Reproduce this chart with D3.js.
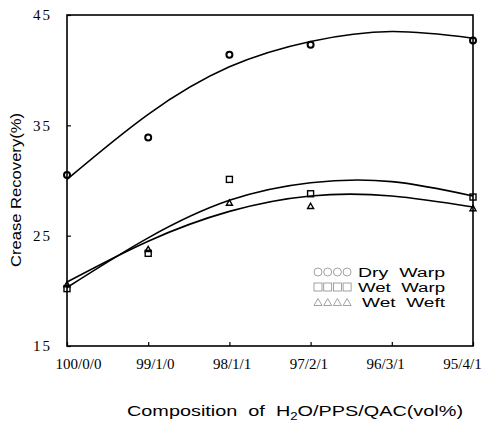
<!DOCTYPE html>
<html>
<head>
<meta charset="utf-8">
<script src="https://cdn.jsdelivr.net/npm/d3@7"></script>
<style>
  body { margin: 0; background: #fff; }
  svg { display: block; }
  .tick text { font-family: "Liberation Serif", "DejaVu Serif", serif; fill: #000; }
  .title { font-family: "Liberation Sans", Arial, sans-serif; font-size: 15px; fill: #000; white-space: pre; }
  .legend { font-family: "Liberation Sans", Arial, sans-serif; font-size: 12.5px; fill: #000; white-space: pre; }
</style>
</head>
<body>
<svg id="chart" width="486" height="422"></svg>
<script>
// compositions H2O/PPS/QAC
const categories = ['100/0/0', '99/1/0', '98/1/1', '97/2/1', '96/3/1', '95/4/1'];
const yTicks = [15, 25, 35, 45];

// measured crease recovery (null = no point at that composition)
const dryWarp = [30.5, 33.9, 41.4, 42.3, null, 42.7];
const wetWarp = [20.2, 23.4, 30.1, 28.8, null, 28.5];
const wetWeft = [20.6, 23.8, 28.0, 27.7, null, 27.5];

const dryWarpFit = [30.1, 36.0, 40.3, 42.6, 43.5, 42.9];
const wetWarpFit = [20.3, 24.8, 28.2, 29.8, 29.9, 28.6];
const wetWeftFit = [20.8, 24.5, 27.2, 28.6, 28.6, 27.6];

const seriesNames = ['Dry  Warp', 'Wet  Warp', 'Wet  Weft'];
const seriesShapes = ['circle', 'square', 'triangle'];

const svg = d3.select('#chart');

const x = d3.scalePoint().domain(categories).range([67, 473]);
// the printed labels sit a little off the tick marks
const xLabel = d3.scalePoint().domain(categories).range([78, 462]);
const y = d3.scaleLinear().domain([15, 45]).range([346, 15]);

// frame
svg.append('rect')
  .attr('x', x.range()[0]).attr('y', y.range()[1])
  .attr('width', x.range()[1] - x.range()[0])
  .attr('height', y.range()[0] - y.range()[1])
  .attr('fill', 'none').attr('stroke', '#000').attr('stroke-width', 1.6);

// y axis, ticks pointing inward
svg.append('g')
  .attr('transform', `translate(${x.range()[0]},0)`)
  .call(d3.axisLeft(y).tickValues(yTicks).tickSize(-4).tickPadding(15))
  .call(g => g.select('.domain').remove())
  .call(g => g.selectAll('.tick line').attr('stroke', '#000').attr('stroke-width', 1.2))
  .call(g => g.selectAll('.tick text')
    .attr('font-size', 15).attr('letter-spacing', 2));

// x axis ticks
svg.append('g')
  .attr('transform', `translate(0,${y.range()[0]})`)
  .call(d3.axisBottom(x).tickSize(-4).tickFormat(''))
  .call(g => g.select('.domain').remove())
  .call(g => g.selectAll('.tick line').attr('stroke', '#000').attr('stroke-width', 1.2));

// x axis labels
svg.append('g')
  .attr('transform', `translate(0,${y.range()[0]})`)
  .call(d3.axisBottom(xLabel).tickSize(0).tickPadding(12))
  .call(g => g.select('.domain').remove())
  .call(g => g.selectAll('.tick text').attr('font-size', 15));

// axis titles
svg.append('text')
  .attr('class', 'title')
  .attr('transform', 'translate(21,190) rotate(-90)')
  .attr('text-anchor', 'middle')
  .attr('textLength', 154).attr('lengthAdjust', 'spacingAndGlyphs')
  .text('Crease Recovery(%)');

const xTitle = svg.append('text')
  .attr('class', 'title')
  .attr('x', 127).attr('y', 416)
  .attr('textLength', 336).attr('lengthAdjust', 'spacingAndGlyphs');
xTitle.append('tspan').text('Composition  of  H');
xTitle.append('tspan').attr('dy', 4).style('font-size', '10px').text('2');
xTitle.append('tspan').attr('dy', -4).text('O/PPS/QAC(vol%)');

// fitted curves
const line = d3.line()
  .x((d, i) => x(categories[i]))
  .y(d => y(d))
  .curve(d3.curveNatural);

[dryWarpFit, wetWarpFit, wetWeftFit].forEach(fit => {
  svg.append('path')
    .attr('d', line(fit))
    .attr('fill', 'none')
    .attr('stroke', '#000')
    .attr('stroke-width', 1.6);
});

// marker shapes
function marker(g, shape, cx, cy, s, stroke, sw) {
  if (shape === 'circle') {
    g.append('circle').attr('cx', cx).attr('cy', cy).attr('r', s / 2);
  } else if (shape === 'square') {
    g.append('rect').attr('x', cx - s / 2).attr('y', cy - s / 2)
      .attr('width', s).attr('height', s);
  } else {
    const h = s * 0.87;
    g.append('path')
      .attr('d', `M${cx},${cy - h / 2}L${cx + s / 2},${cy + h / 2}L${cx - s / 2},${cy + h / 2}Z`);
  }
  g.attr('fill', 'none').attr('stroke', stroke).attr('stroke-width', sw);
}

[dryWarp, wetWarp, wetWeft].forEach((vals, k) => {
  vals.forEach((v, i) => {
    if (v == null) return;
    const sw = k === 0 ? 2 : 1.4;
    marker(svg.append('g'), seriesShapes[k], x(categories[i]), y(v), 6, '#000', sw);
  });
});

// legend
const legendRows = [272, 287, 302];
const legendTextX = [358, 358, 362];
const legendWidths = [87, 87, 83];
seriesNames.forEach((name, k) => {
  const g = svg.append('g');
  for (let j = 0; j < 4; j++) {
    marker(g.append('g'), seriesShapes[k], 318 + j * 9.7, legendRows[k], 8, '#8a8a8a', 0.8);
  }
  svg.append('text')
    .attr('class', 'legend')
    .attr('x', legendTextX[k]).attr('y', legendRows[k] + 5)
    .attr('textLength', legendWidths[k]).attr('lengthAdjust', 'spacingAndGlyphs')
    .text(name);
});
</script>
</body>
</html>
